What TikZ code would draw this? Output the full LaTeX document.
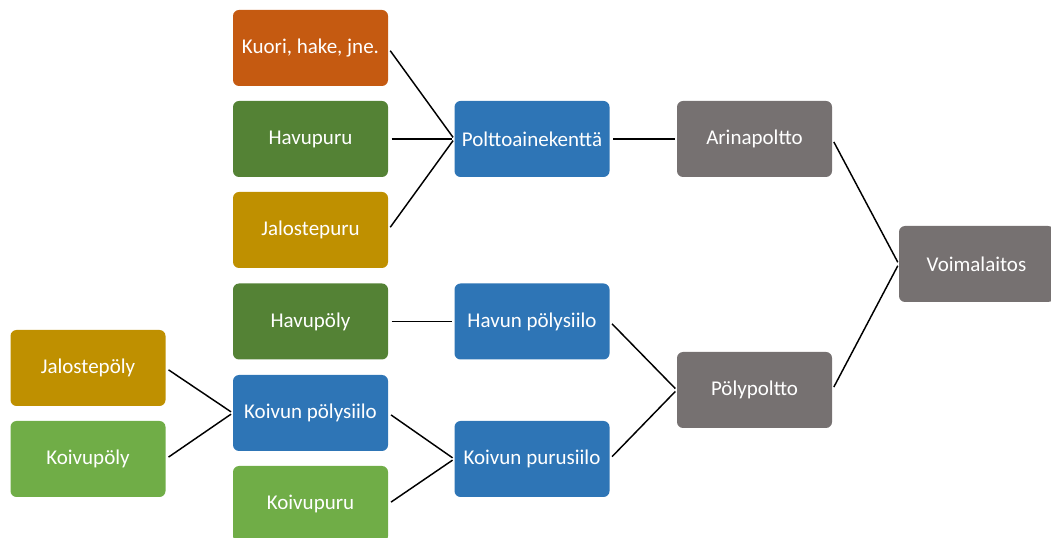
\documentclass[tikz,border=0pt]{standalone}
\usepackage{fontspec}
\setmainfont{Carlito}
\definecolor{corange}{HTML}{C55A11}
\definecolor{cdgreen}{HTML}{548235}
\definecolor{cgold}{HTML}{BF9000}
\definecolor{cblue}{HTML}{2E75B6}
\definecolor{clgreen}{HTML}{70AD47}
\definecolor{cgray}{HTML}{767171}
\tikzset{
  box/.style={rectangle, rounded corners=4.5pt, minimum width=116.25pt, minimum height=57pt,
    inner sep=0pt, text=white, font=\fontsize{15.75}{19}\selectfont},
  conn/.style={draw=black, line width=1.1pt, shorten <=2.5pt, shorten >=1.5pt}
}
\begin{document}
\begin{tikzpicture}[x=0.75pt,y=-0.75pt]
\useasboundingbox (0,0) rectangle (1051,538);
\begin{scope}
\clip (0,0) rectangle (1051,538);
\node[box, fill=corange] (kuori) at (310.5,48) {Kuori, hake, jne.};
\node[box, fill=cdgreen] (havupuru) at (310.5,139) {Havupuru};
\node[box, fill=cgold] (jalostepuru) at (310.5,230) {Jalostepuru};
\node[box, fill=cdgreen] (havupoly) at (310.5,321.5) {Havupöly};
\node[box, fill=cblue] (koivunps) at (310.5,413) {Koivun pölysiilo};
\node[box, fill=clgreen] (koivupuru) at (310.5,504) {Koivupuru};
\node[box, fill=cgold] (jalostepoly) at (88,368) {Jalostepöly};
\node[box, fill=clgreen] (koivupoly) at (88,459) {Koivupöly};
\node[box, fill=cblue] (poltto) at (532,139) {Polttoainekenttä};
\node[box, fill=cblue] (havunps) at (532,321.5) {Havun pölysiilo};
\node[box, fill=cblue] (koivunpu) at (532,459) {Koivun purusiilo};
\node[box, fill=cgray] (arina) at (754.5,139) {Arinapoltto};
\node[box, fill=cgray] (polyp) at (754.5,390) {Pölypoltto};
\node[box, fill=cgray] (voima) at (976.5,264) {Voimalaitos};
\end{scope}
\draw[conn] (kuori.east) -- (poltto.west);
\draw[conn] (havupuru.east) -- (poltto.west);
\draw[conn] (jalostepuru.east) -- (poltto.west);
\draw[conn] (havupoly.east) -- (havunps.west);
\draw[conn] (jalostepoly.east) -- (koivunps.west);
\draw[conn] (koivupoly.east) -- (koivunps.west);
\draw[conn] (koivunps.east) -- (koivunpu.west);
\draw[conn] (koivupuru.east) -- (koivunpu.west);
\draw[conn] (poltto.east) -- (arina.west);
\draw[conn] (havunps.east) -- (polyp.west);
\draw[conn] (koivunpu.east) -- (polyp.west);
\draw[conn] (arina.east) -- (voima.west);
\draw[conn] (polyp.east) -- (voima.west);
\end{tikzpicture}
\end{document}
